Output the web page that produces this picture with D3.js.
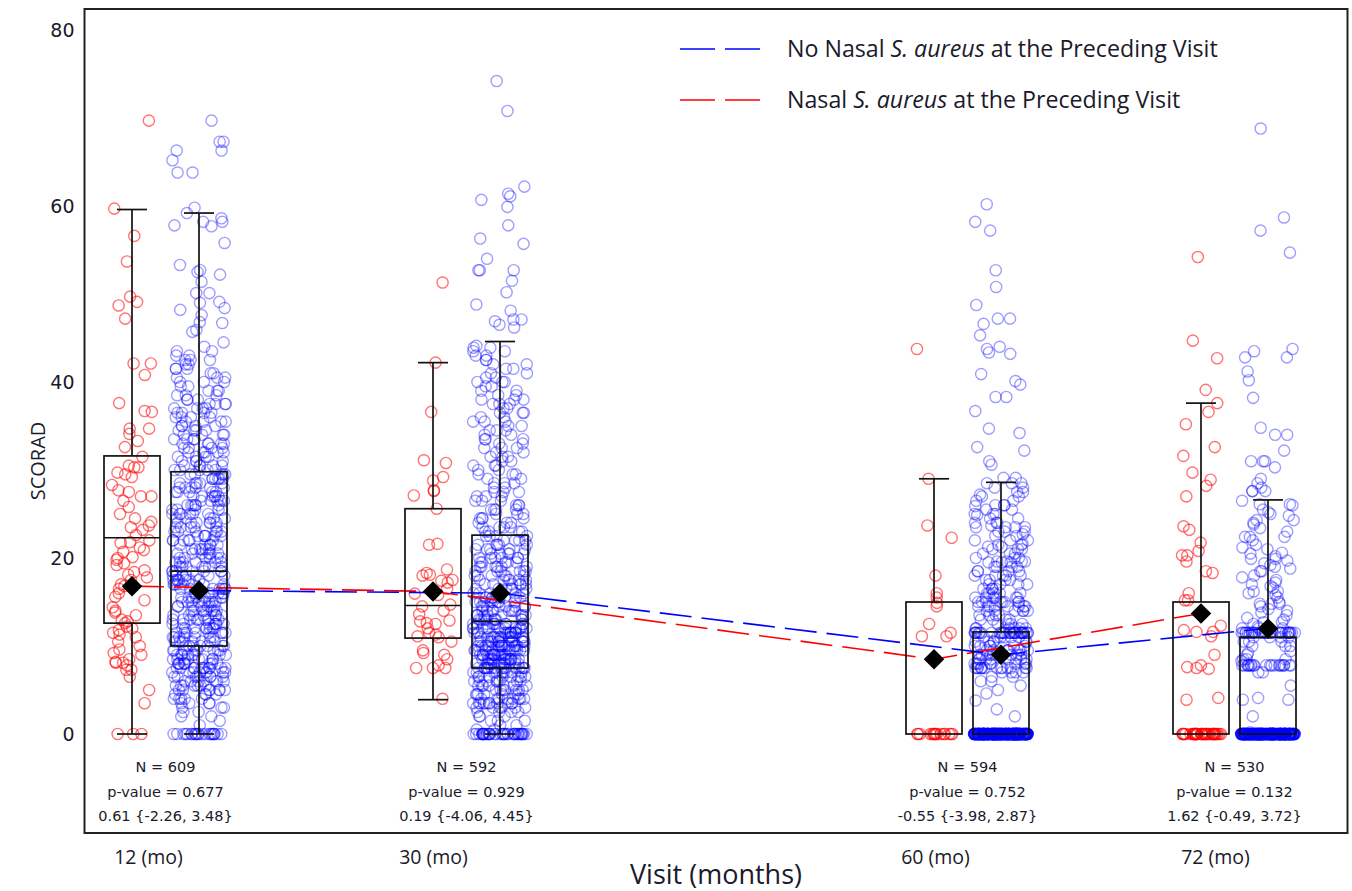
<!DOCTYPE html>
<html><head><meta charset="utf-8">
<script src="https://cdn.jsdelivr.net/npm/d3@7"></script>
<style>html,body{margin:0;padding:0;background:#fff}svg{display:block}</style>
</head><body>
<svg id="chart" width="1352" height="891"></svg>
<script>
// ---------------- DATA ----------------
const visits = [12, 30, 60, 72];
const visitLabels = ["12 (mo)", "30 (mo)", "60 (mo)", "72 (mo)"];
const nLabels = ["N = 609", "N = 592", "N = 594", "N = 530"];
const pLabels = ["p-value = 0.677", "p-value = 0.929", "p-value = 0.752", "p-value = 0.132"];
const ciLabels = ["0.61 {-2.26, 3.48}", "0.19 {-4.06, 4.45}", "-0.55 {-3.98, 2.87}", "1.62 {-0.49, 3.72}"];
const yTicks = [0, 20, 40, 60, 80];
const yTitle = "SCORAD";
const xTitle = "Visit (months)";
const legendNames = [
  ["No Nasal ", "S. aureus", " at the Preceding Visit"],
  ["Nasal ", "S. aureus", " at the Preceding Visit"]
];
// box stats per visit: [whisker low, Q1, median, Q3, whisker high]
const redBox  = [[0, 12.6, 22.3, 31.6, 59.6], [3.9, 10.9, 14.6, 25.6, 42.2], [0, 0, 0, 15.0, 29.0], [0, 0, 0, 15.0, 37.6]];
const blueBox = [[0, 10.0, 18.5, 29.8, 59.2], [0, 7.5, 12.8, 22.6, 44.6], [0, 0, 0, 11.6, 28.6], [0, 0, 0, 11.0, 26.6]];
const redMean  = [16.8, 16.2, 8.5, 13.7];
const blueMean = [16.3, 16.0, 9.0, 12.0];
// individual SCORAD values ("value*count")
const red12 = "69.7 59.7 56.6 53.7 49.7 49.1 48.7 47.2 42.1 42.1 40.8 37.6 36.6 36.7 34.7 34.7 34.1 33.3 32.6 31.5 30.3 30.3 30.5 29.7 29.5 29.2 28.3 27.7 27.5 27 27 26.5 25.8 25 24.5 24.1 23.7 23.5 23.2 22.6 22 21.8 21.7 21.2 20.9 20.7 20.1 20 19.8 19.4 19.2 18.6 18.4 18.1 17.8 17.5 17 16.8 16.5 16 15.6 15.2 14.4 14 13.8 13.5 13 12.8 12.6 12.2 12 11.8 11.5 11.3 11 10.5 10 9.6 9.2 9 8.5 8.2 8.1 8.1 7.8 7.3 7.3 6.5 5 3.5 0 0 0";
const blue12 = "69.7 67.3 67.3 66.3 66.3 65.2 63.8 63.8 59.8 59.2 58.6 58.2 58.2 57.7 57.8 55.8 53.3 52.7 52.5 52.2 51.4 50.1 50.1 49.1 49 48.4 48.2 47.6 46.8 46.7 45.9 45.7 44.5 44 43.5*2 43*2 42.5*3 42*2 41.5*3 41*2 40.5*3 40*3 39.5*2 39*3 38.5*3 38*3 37.5*4 37*4 36.5*4 36*4 35.5*4 35*4 34.5*4 34*4 33.5*4 33*5 32.5*4 32*5 31.5*4 31*4 30.5*5 30*5 29.5*5 29*6 28.5*5 28*6 27.5*5 27*6 26.5*5 26*6 25.5*5 25*6 24.5*5 24*6 23.5*5 23*6 22.5*6 22*6 21.5*5 21*6 20.5*6 20*6 19.5*6 19*7 18.5*7 18*7 17.5*7 17*7 16.5*7 16*8 15.5*7 15*8 14.5*7 14*7 13.5*7 13*8 12.5*7 12*8 11.5*8 11*7 10.5*7 10*7 9.5*8 9*8 8.5*8 8*9 7.5*11 7*8 6.5*7 6*7 5.5*7 5*7 4.5*4 4*5 3.5*4 3*3 2.5*2 2*2 1.5 1 0*22";
const red30 = "51.3 42.2 36.6 31.1 30.8 29.2 28.8 27.7 27.6 27.1 25.6 21.6 21.5 18.7 18.3 18.1 18 17.5 17.4 17.2 16.5 15.95 15.8 14.7 14.5 14 13.6 12.9 12.8 12.6 12.5 12 11.5 11.3 11.1 11 10.5 9.5 9.2 9 8.5 7.8 7.5 7.5 7.5 4";
const blue30 = "74.2 70.8 62.2 61.4 61.1 60.7 59.9 57.8 56.3 55.7 54 52.7 52.7 52.7 51.5 50.2 48.8 48.1 47.1 47.1 46.9 46.5 46.2 44.1 43.9 43.9 43.5*2 43*2 42.5*2 42*2 41.5*2 41*2 40.5*2 40*3 39.5*2 39*2 38.5*2 38*3 37.5*3 37*2 36.5*3 36*2 35.5*3 35*2 34.5*3 34*2 33.5*3 33*2 32.5*3 32*2 31.5*3 31*2 30.5*3 30*2 29.5*3 29*2 28.5*3 28*2 27.5*3 27*3 26.5*3 26*3 25.5*4 25*3 24.5*4 24*3 23.5*4 23*4 22.5*4 22*4 21.5*5 21*5 20.5*5 20*6 19.5*5 19*6 18.5*6 18*6 17.5*6 17*6 16.5*6 16*6 15.5*8 15*8 14.5*8 14*8 13.5*9 13*9 12.5*10 12*13 11.5*13 11*14 10.5*14 10*14 9.5*14 9*14 8.5*14 8*13 7.5*16 7*9 6.5*8 6*8 5.5*7 5*7 4.5*7 4*8 3.5*11 3*6 2.5*4 2*3 1.5*3 1*2 0.5*2 0*40";
const red60 = "43.75 29 23.7 22.3 18 16 15.5 14.9 14.5 12.5 11.5 11.1 11.1 0*16";
const blue60 = "60.2 58.2 57.2 52.7 50.8 48.75 47.2 47.2 46.6 45.3 44 43.75 43.35 43.2 40.9 40.1 39.7 38.3 38.3 36.7 34.7 34.2 32.6 32.2 31 30.6 29.1 29.1 27.2 25.9 24.9 23.7 23.5 22.7 21.6 21.25 21.3 19.6 19.6 19.6 19.6 18 18 28.5*3 28*2 27.5*2 27*2 26.5*2 26*3 25.5*2 25*3 24.5*2 24*3 23.5*3 23*3 22.5*2 22*3 21.5*2 21*3 20.5*3 20*3 19.5*3 19*4 18.5*4 18*3 17.5*4 17*4 16.5*4 16*5 15.5*6 15*8 14.5*8 14*6 13.5*4 13*4 12.5*4 12*6 11.5*30 11*6 10.5*6 10*6 9.5*8 9*8 8.5*8 8*8 7.5*14 7*4 6.5*2 6*2 5.5 5 4.6 3.8 2.8 2 0*290";
const red72 = "54.2 44.7 42.7 39.1 37.6 36.6 35.2 32.6 31.6 29.7 28.9 28.2 27 23.6 23.2 21.75 20.8 20.3 20.3 19.6 18.5 18.3 16 15.2 15.2 12.3 11.8 11.6 11.6 11.1 9 7.8 7.6 7.5 7.4 4.1 3.9 0*40";
const blue72 = "68.8 58.7 57.2 54.7 43.75 43.5 42.8 42.8 41.2 40.2 38.2 34.8 34 34 32.2 31 31 31 30.3 29 28.5 28 27.6 27.6 27.6 26.5 26.1 26.1 26 25.5 25.2 25 24.8 24.3 24.3 24 23.8 23.4 23 22.4 22.4 22.4 22 21.5 21.2 21 20.6 20.5 20.2 19.9 19.9 19.7 19.4 19.2 19 18.8 18.5 18.5 18 17.8 17.5 17.2 17 16.8 16.6 16.2 16.2 16 15.8 15.5 15 14.8 14.8 14.8 14.5 14.2 14 13.8 13.5 13.2 13 12.7 12.7 12.5 12.2 12*3 11.5*30 11*4 10.5*3 10*3 9.4 9.2 9 8.5*3 8.3 7.8*20 7*2 5.5 4.1 3.9 3.9 2 0.2 0*280";
const redPoints  = [red12, red30, red60, red72];
const bluePoints = [blue12, blue30, blue60, blue72];

// ---------------- LAYOUT ----------------
const frame = {left: 84.5, right: 1347.5, top: 9, bottom: 833};
const RED = "#ff0000", BLUE = "#0000ff";
const blueOffset = 67, boxW = 56, capW = 30;
const tickNudge = [16, 0, 1, 14];
const fontSans = "'Open Sans', 'Noto Sans', sans-serif";
const fontVer = "'DejaVu Sans', Verdana, sans-serif";
const ink = "#1a1a2a";

function expand(s) {
  const out = [];
  s.trim().split(/\s+/).forEach(t => {
    const [v, n] = t.split("*");
    const k = n ? +n : 1;
    for (let i = 0; i < k; i++) out.push(+v);
  });
  return out;
}
// deterministic horizontal jitter in [-1, 1] (layout only)
function jit(i, vi, si) {
  const s = Math.sin((i + 1) * 12.9898 + vi * 78.233 + si * 37.719) * 43758.5453;
  return (s - Math.floor(s)) * 2 - 1;
}

const svg = d3.select("#chart");
const y = d3.scaleLinear().domain([0, 80]).range([734, 30]);
const x = d3.scaleLinear().domain(visits).range([132, 433, 934, 1201]);

// points
const series = [
  {vals: redPoints, off: 0, color: RED, op: 0.55, half: 20},
  {vals: bluePoints, off: blueOffset, color: BLUE, op: 0.38, half: 27}
];
const gPts = svg.append("g");
series.forEach((s, si) => {
  s.vals.forEach((str, vi) => {
    const arr = expand(str);
    gPts.selectAll(null).data(arr).enter().append("circle")
      .attr("cx", (d, i) => x(visits[vi]) + s.off + jit(i, vi, si) * s.half)
      .attr("cy", d => y(d))
      .attr("r", 5.6)
      .attr("fill", "none")
      .attr("stroke", s.color)
      .attr("stroke-opacity", s.op)
      .attr("stroke-width", 1.4);
  });
});

// mean lines
const line = off => d3.line().x((d, i) => x(visits[i]) + off).y(d => y(d));
svg.append("path").datum(redMean).attr("d", line(0)).attr("fill", "none")
  .attr("stroke", RED).attr("stroke-width", 1.6).attr("stroke-dasharray", "32,10");
svg.append("path").datum(blueMean).attr("d", line(blueOffset)).attr("fill", "none")
  .attr("stroke", BLUE).attr("stroke-width", 1.6).attr("stroke-dasharray", "32,10");

// boxes
const gBox = svg.append("g").attr("stroke", "#111").attr("stroke-width", 1.7).attr("fill", "none");
[{b: redBox, off: 0}, {b: blueBox, off: blueOffset}].forEach(s => {
  s.b.forEach((st, vi) => {
    const cx = x(visits[vi]) + s.off;
    const [lo, q1, med, q3, hi] = st;
    gBox.append("rect").attr("x", cx - boxW / 2).attr("y", y(q3))
      .attr("width", boxW).attr("height", y(q1) - y(q3));
    if (med > q1) gBox.append("line").attr("x1", cx - boxW / 2).attr("x2", cx + boxW / 2).attr("y1", y(med)).attr("y2", y(med));
    gBox.append("line").attr("x1", cx).attr("x2", cx).attr("y1", y(q3)).attr("y2", y(hi));
    gBox.append("line").attr("x1", cx - capW / 2).attr("x2", cx + capW / 2).attr("y1", y(hi)).attr("y2", y(hi));
    if (q1 > lo) {
      gBox.append("line").attr("x1", cx).attr("x2", cx).attr("y1", y(q1)).attr("y2", y(lo));
      gBox.append("line").attr("x1", cx - capW / 2).attr("x2", cx + capW / 2).attr("y1", y(lo)).attr("y2", y(lo));
    }
  });
});

// mean diamonds
const diamond = d3.symbol(d3.symbolSquare, 210);
[{m: redMean, off: 0}, {m: blueMean, off: blueOffset}].forEach(s => {
  svg.append("g").selectAll("path").data(s.m).enter().append("path")
    .attr("d", diamond)
    .attr("transform", (d, i) => `translate(${x(visits[i]) + s.off},${y(d)}) rotate(45)`)
    .attr("fill", "#000");
});

// frame
svg.append("rect").attr("x", frame.left).attr("y", frame.top)
  .attr("width", frame.right - frame.left).attr("height", frame.bottom - frame.top)
  .attr("fill", "none").attr("stroke", "#222").attr("stroke-width", 2);

// y axis labels
const yAxis = svg.append("g").attr("transform", `translate(${frame.left},0)`)
  .call(d3.axisLeft(y).tickValues(yTicks).tickSize(0).tickPadding(10));
yAxis.select(".domain").remove();
yAxis.selectAll("text").attr("font-family", fontVer).attr("font-size", 19).attr("fill", ink);

svg.append("text").attr("transform", "translate(45,461) rotate(-90)")
  .attr("text-anchor", "middle").attr("font-family", fontSans).attr("font-size", 20)
  .attr("fill", ink).text(yTitle);

// x axis labels
const xAxis = svg.append("g").attr("transform", `translate(0,${frame.bottom})`)
  .call(d3.axisBottom(x).tickValues(visits).tickFormat((d, i) => visitLabels[i]).tickSize(0).tickPadding(17));
xAxis.select(".domain").remove();
xAxis.selectAll("text").attr("font-family", fontSans).attr("font-size", 19.5).attr("fill", ink)
  .attr("dx", (d, i) => tickNudge[i]);

svg.append("text").attr("x", 716).attr("y", 884).attr("text-anchor", "middle")
  .attr("font-family", fontSans).attr("font-size", 27).attr("fill", ink).text(xTitle);

// annotations
const gAnn = svg.append("g").attr("font-family", fontVer).attr("font-size", 14.5)
  .attr("fill", ink).attr("text-anchor", "middle");
visits.forEach((v, i) => {
  const cx = x(v) + blueOffset / 2;
  gAnn.append("text").attr("x", cx).attr("y", 772).text(nLabels[i]);
  gAnn.append("text").attr("x", cx).attr("y", 797).text(pLabels[i]);
  gAnn.append("text").attr("x", cx).attr("y", 821).text(ciLabels[i]);
});

// legend
const legColors = [BLUE, RED];
legendNames.forEach((parts, i) => {
  const ly = 49 + i * 51;
  svg.append("line").attr("x1", 680).attr("x2", 762).attr("y1", ly).attr("y2", ly)
    .attr("stroke", legColors[i]).attr("stroke-width", 1.6).attr("stroke-dasharray", "35,10");
  const t = svg.append("text").attr("x", 787).attr("y", ly + 8).attr("font-family", fontSans)
    .attr("font-size", 23.2).attr("fill", ink);
  t.append("tspan").text(parts[0]);
  t.append("tspan").attr("font-style", "italic").text(parts[1]);
  t.append("tspan").text(parts[2]);
});
</script>
</body></html>
